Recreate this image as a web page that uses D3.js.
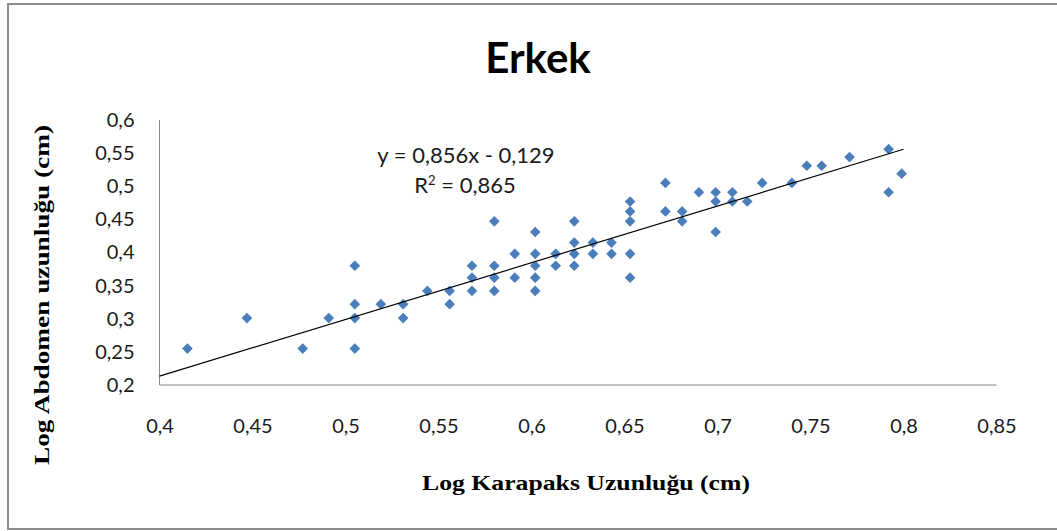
<!DOCTYPE html>
<html>
<head>
<meta charset="utf-8">
<script src="https://cdn.jsdelivr.net/npm/d3@7"></script>
<style>
body { margin:0; background:#fff; }
.tick-label { font-family: Lato, "Open Sans", sans-serif; font-size:20px; fill:#1a1a1a; }
.eq-label { font-family: Lato, "Open Sans", sans-serif; font-size:22px; fill:#1a1a1a; }
.axis-title { font-family: "Liberation Serif", "DejaVu Serif", serif; font-weight:bold; font-size:22px; fill:#000; }
</style>
</head>
<body>
<div class="chart-container"></div>
<script>
// log karapaks (x) vs log abdomen (y)
var logKarapaks = [0.415,0.447,0.477,0.491,0.505,0.505,0.505,0.505,0.519,0.531,0.531,0.544,0.556,0.556,
	0.568,0.568,0.568,0.580,0.580,0.580,0.580,0.591,0.591,0.602,0.602,0.602,0.602,0.602,0.613,0.613,
	0.623,0.623,0.623,0.623,0.633,0.633,0.643,0.643,0.653,0.653,0.653,0.653,0.653,0.672,0.672,0.681,
	0.681,0.690,0.699,0.699,0.699,0.708,0.708,0.716,0.724,0.740,0.748,0.756,0.771,0.792,0.792,0.799];
var logAbdomen = [0.255,0.301,0.255,0.301,0.380,0.322,0.301,0.255,0.322,0.322,0.301,0.342,0.342,0.322,
	0.380,0.362,0.342,0.447,0.380,0.362,0.342,0.398,0.362,0.431,0.398,0.380,0.362,0.342,0.398,0.380,
	0.447,0.415,0.398,0.380,0.415,0.398,0.415,0.398,0.477,0.462,0.447,0.398,0.362,0.505,0.462,0.462,
	0.447,0.491,0.491,0.477,0.431,0.491,0.477,0.477,0.505,0.505,0.531,0.531,0.544,0.556,0.491,0.519];
var xTicks = [0.4,0.45,0.5,0.55,0.6,0.65,0.7,0.75,0.8,0.85];
var yTicks = [0.2,0.25,0.3,0.35,0.4,0.45,0.5,0.55,0.6];
var slope = 0.856, intercept = -0.129;
var trendRange = [0.4, 0.8];

var width = 1057, height = 531;
var margin = {top:120, left:159.5, right:60.5, bottom:146};

var svg = d3.select('.chart-container').append('svg')
	.attr('width', width)
	.attr('height', height);

var xScale = d3.scaleLinear().domain([0.4,0.85]).range([margin.left, width - margin.right]),
	yScale = d3.scaleLinear().domain([0.2,0.6]).range([height - margin.bottom, margin.top]);

var comma = function(v) { return d3.format('')(+v.toFixed(2)).replace('.', ','); };

// outer frame
svg.append('rect')
	.attr('x', 8).attr('y', 4)
	.attr('width', 1070).attr('height', 525)
	.attr('fill', 'none')
	.style('stroke', '#8c8c8c')
	.style('stroke-width', 2);

svg.append('text')
	.attr('x', 538).attr('y', 73)
	.attr('text-anchor', 'middle')
	.style('font-family', 'Lato, "Open Sans", sans-serif')
	.style('font-weight', 'bold')
	.style('font-size', '42px')
	.text('Erkek');

/// axes
var xAxis = d3.axisBottom(xScale).tickValues(xTicks).tickSize(0).tickPadding(34).tickFormat(comma);
var yAxis = d3.axisLeft(yScale).tickValues(yTicks).tickSize(0).tickPadding(25).tickFormat(comma);

var gx = svg.append('g')
	.attr('transform', 'translate(0,' + yScale(0.2) + ')')
	.call(xAxis);
gx.select('.domain').attr('d', 'M' + xScale(0.4) + ',0H' + xScale(0.85)).style('stroke', '#868686');
gx.selectAll('text').attr('class', 'tick-label').attr('font-size', null).attr('font-family', null);

var gy = svg.append('g')
	.attr('transform', 'translate(' + xScale(0.4) + ',0)')
	.call(yAxis);
gy.select('.domain').attr('d', 'M0,' + yScale(0.6) + 'V' + yScale(0.2)).style('stroke', '#868686');
gy.selectAll('text').attr('class', 'tick-label').attr('font-size', null).attr('font-family', null);

svg.append('text')
	.attr('class', 'axis-title')
	.attr('x', 586).attr('y', 490)
	.attr('text-anchor', 'middle')
	.attr('textLength', 328)
	.attr('lengthAdjust', 'spacingAndGlyphs')
	.text('Log Karapaks Uzunluğu (cm)');

svg.append('text')
	.attr('class', 'axis-title')
	.attr('transform', 'translate(49,295) rotate(-90)')
	.attr('text-anchor', 'middle')
	.attr('textLength', 340)
	.attr('lengthAdjust', 'spacingAndGlyphs')
	.text('Log Abdomen uzunluğu (cm)');

/// points
var points = logKarapaks.map(function(x, i) { return {x:x, y:logAbdomen[i]}; });
svg.selectAll('.point')
	.data(points)
	.enter().append('path')
	.attr('class', 'point')
	.attr('d', d3.symbol().type(d3.symbolDiamond2).size(72))
	.attr('transform', function(d) { return 'translate(' + xScale(d.x) + ',' + yScale(d.y) + ')'; })
	.style('fill', '#4a7ebb');

/// trendline
svg.append('line')
	.attr('x1', xScale(trendRange[0])).attr('y1', yScale(slope*trendRange[0] + intercept))
	.attr('x2', xScale(trendRange[1])).attr('y2', yScale(slope*trendRange[1] + intercept))
	.style('stroke', '#000')
	.style('stroke-width', 1.2);

var eq = svg.append('g');
eq.append('text')
	.attr('class', 'eq-label')
	.attr('x', 466).attr('y', 163)
	.attr('text-anchor', 'middle')
	.text('y = 0,856x - 0,129');
eq.append('text')
	.attr('class', 'eq-label')
	.attr('x', 465).attr('y', 193)
	.attr('text-anchor', 'middle')
	.html('R<tspan dy="-8" font-size="13px">2</tspan><tspan dy="8"> = 0,865</tspan>');
</script>
</body>
</html>
